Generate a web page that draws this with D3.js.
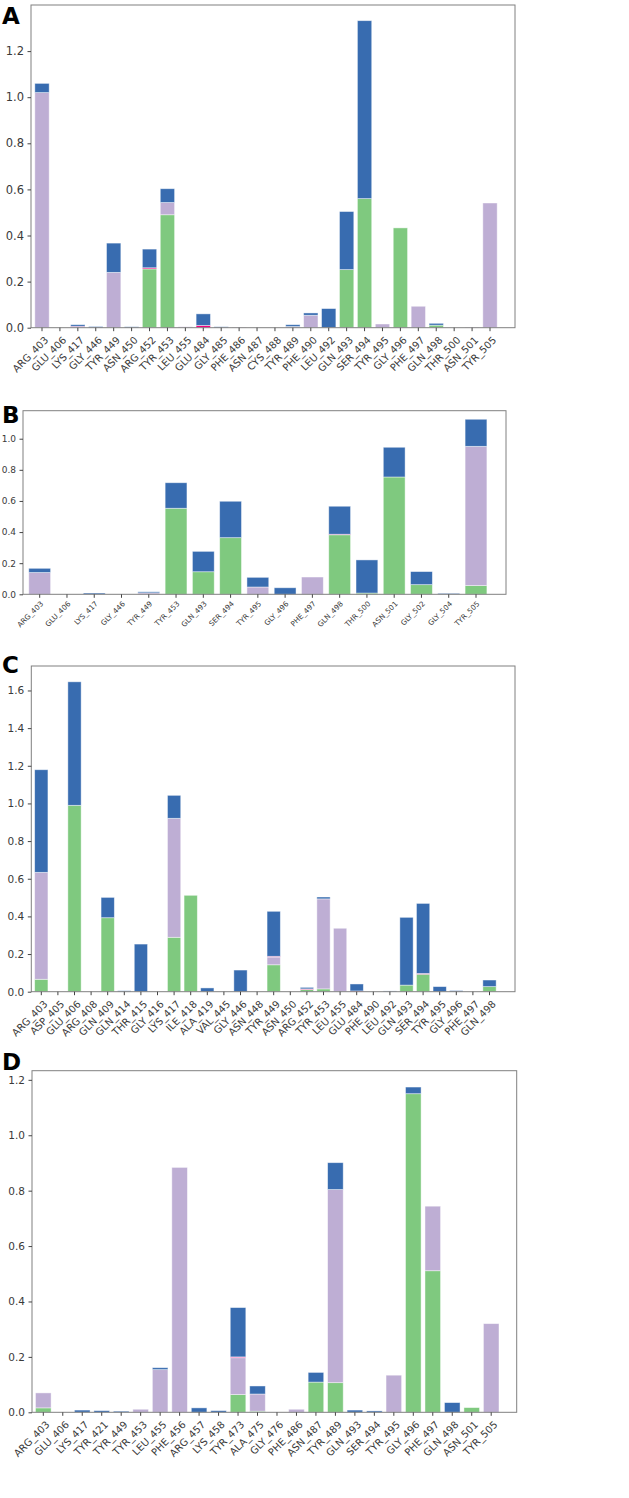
<!DOCTYPE html>
<html><head><meta charset="utf-8">
<script src="https://cdn.jsdelivr.net/npm/d3@7"></script>
<style>
html,body{margin:0;padding:0;background:#fff;}
svg{display:block;}
</style></head>
<body>
<svg id="chart" width="629" height="1498"></svg>
<script>
// ---------- Panel A data ----------
const catsA = ["ARG_403","GLU_406","LYS_417","GLY_446","TYR_449","ASN_450","ARG_452","TYR_453","LEU_455","GLU_484","GLY_485","PHE_486","ASN_487","CYS_488","TYR_489","PHE_490","LEU_492","GLN_493","SER_494","TYR_495","GLY_496","PHE_497","GLN_498","THR_500","ASN_501","TYR_505"];
const greenA  = [0,0,0,0,0,0,0.255,0.49,0,0,0,0,0,0,0,0,0,0.252,0.56,0,0.433,0,0.011,0,0,0];
const purpleA = [1.02,0,0.003,0,0.24,0,0,0.053,0.004,0,0,0.002,0,0,0.005,0.054,0,0,0,0.016,0,0.093,0,0,0.002,0.541];
const pinkA   = [0,0,0.003,0,0,0,0.005,0,0,0.01,0,0,0,0,0,0,0,0,0,0,0,0,0,0,0,0];
const blueA   = [0.04,0,0.007,0.005,0.127,0.004,0.081,0.06,0,0.05,0.004,0,0,0,0.008,0.01,0.083,0.252,0.772,0,0,0,0.008,0,0,0];
const ticksA  = [0,0.2,0.4,0.6,0.8,1.0,1.2];

// ---------- Panel B data ----------
const catsB = ["ARG_403","GLU_406","LYS_417","GLY_446","TYR_449","TYR_453","GLN_493","SER_494","TYR_495","GLY_496","PHE_497","GLN_498","THR_500","ASN_501","GLY_502","GLY_504","TYR_505"];
const greenB  = [0,0,0,0,0,0.553,0.145,0.364,0,0,0,0.383,0.008,0.754,0.062,0,0.056];
const purpleB = [0.14,0,0,0,0.009,0,0,0,0.047,0,0.111,0,0,0,0,0,0.895];
const pinkB   = [0,0,0,0,0,0,0,0,0,0,0,0.003,0,0,0,0,0];
const blueB   = [0.027,0,0.008,0,0.007,0.164,0.131,0.234,0.062,0.042,0,0.18,0.213,0.191,0.084,0.006,0.174];
const ticksB  = [0,0.2,0.4,0.6,0.8,1.0];

// ---------- Panel C data ----------
const catsC = ["ARG_403","ASP_405","GLU_406","ARG_408","GLN_409","GLN_414","THR_415","GLY_416","LYS_417","ILE_418","ALA_419","VAL_445","GLY_446","ASN_448","TYR_449","ASN_450","ARG_452","TYR_453","LEU_455","GLU_484","PHE_490","LEU_492","GLN_493","SER_494","TYR_495","GLY_496","PHE_497","GLN_498"];
const greenC  = [0.066,0,0.99,0,0.393,0,0,0,0.289,0.512,0,0,0,0,0.143,0,0.012,0.015,0,0,0,0,0.035,0.093,0,0,0,0.027];
const purpleC = [0.568,0,0,0,0,0,0,0,0.632,0,0,0,0,0,0.041,0,0,0.478,0.337,0,0,0,0,0,0,0,0,0];
const pinkC   = [0,0,0,0,0,0,0,0,0,0,0,0,0,0,0.004,0,0.003,0,0,0.004,0,0,0,0.004,0,0,0,0];
const blueC   = [0.545,0,0.656,0,0.108,0.005,0.253,0,0.122,0,0.02,0,0.115,0,0.239,0,0.008,0.01,0,0.037,0,0.004,0.36,0.372,0.027,0.006,0,0.035];
const ticksC  = [0,0.2,0.4,0.6,0.8,1.0,1.2,1.4,1.6];

// ---------- Panel D data ----------
const catsD = ["ARG_403","GLU_406","LYS_417","TYR_421","TYR_449","TYR_453","LEU_455","PHE_456","ARG_457","LYS_458","TYR_473","ALA_475","GLY_476","PHE_486","ASN_487","TYR_489","GLN_493","SER_494","TYR_495","GLY_496","PHE_497","GLN_498","ASN_501","TYR_505"];
const greenD  = [0.016,0,0,0,0,0,0,0,0,0,0.064,0.004,0,0,0.109,0.107,0,0,0,1.15,0.511,0,0.017,0];
const purpleD = [0.054,0,0,0,0,0.011,0.154,0.884,0,0,0.133,0.062,0,0.011,0,0.697,0,0,0.134,0,0.233,0,0,0.32];
const pinkD   = [0,0,0,0,0,0,0,0,0,0,0.003,0,0,0,0,0,0,0,0,0,0,0,0,0];
const blueD   = [0,0,0.008,0.006,0.004,0,0.007,0,0.016,0.006,0.178,0.029,0,0,0.035,0.097,0.008,0.005,0,0.024,0,0.035,0,0];
const ticksD  = [0,0.2,0.4,0.6,0.8,1.0,1.2];

const seriesKeys = ["green","purple","pink","blue"];
const colors = {green:"#7fc97f", purple:"#beaed4", pink:"#f0027f", blue:"#386cb0"};

// layout (pixel geometry only)
const panels = [
  {letter:"A", cats:catsA, s:{green:greenA,purple:purpleA,pink:pinkA,blue:blueA}, ticks:ticksA,
   left:31, right:515, top:5, bottom:327.7, c0:42, c1:490, yMax:1.4, letterY:24,
   yFont:11.5, xFont:10, lblDx:7, lblDy:13},
  {letter:"B", cats:catsB, s:{green:greenB,purple:purpleB,pink:pinkB,blue:blueB}, ticks:ticksB,
   left:23, right:506, top:410.7, bottom:594.3, c0:39.7, c1:476, yMax:1.18, letterY:423,
   yFont:9, xFont:7.3, lblDx:4, lblDy:10},
  {letter:"C", cats:catsC, s:{green:greenC,purple:purpleC,pink:pinkC,blue:blueC}, ticks:ticksC,
   left:31.3, right:515, top:666, bottom:991.7, c0:41.3, c1:489.5, yMax:1.73, letterY:673,
   yFont:10.5, xFont:10, lblDx:7, lblDy:13},
  {letter:"D", cats:catsD, s:{green:greenD,purple:purpleD,pink:pinkD,blue:blueD}, ticks:ticksD,
   left:32, right:516.7, top:1070.7, bottom:1412.3, c0:43.3, c1:491.2, yMax:1.233, letterY:1070,
   yFont:10.5, xFont:10, lblDx:7, lblDy:13}
];

const svg = d3.select("#chart");
const font = "DejaVu Sans, sans-serif";

panels.forEach(p => {
  const n = p.cats.length;
  const step = (p.c1 - p.c0) / (n - 1);
  const x = d3.scaleBand().domain(p.cats)
    .range([p.c0 - step/2, p.c1 + step/2]).paddingInner(0.2).paddingOuter(0.1);
  const y = d3.scaleLinear().domain([0, p.yMax]).range([p.bottom, p.top]);

  const g = svg.append("g");

  const rows = p.cats.map((c,i) => {
    const r = {cat:c};
    seriesKeys.forEach(k => r[k] = p.s[k][i]);
    return r;
  });
  const stacked = d3.stack().keys(seriesKeys)(rows);

  g.selectAll("g.layer").data(stacked).join("g")
    .attr("fill", d => colors[d.key])
    .selectAll("rect").data(d => d.filter(e => e[1] - e[0] > 0)).join("rect")
    .attr("x", d => x(d.data.cat))
    .attr("width", x.bandwidth())
    .attr("y", d => y(d[1]))
    .attr("height", d => Math.max(0.6, y(d[0]) - y(d[1])))
    .attr("stroke", "rgba(255,255,255,0.55)")
    .attr("stroke-width", 0.8);

  g.append("rect")
    .attr("x", p.left).attr("y", p.top)
    .attr("width", p.right - p.left).attr("height", p.bottom - p.top)
    .attr("fill", "none").attr("stroke", "#808080").attr("stroke-width", 1);

  const yAxis = d3.axisLeft(y).tickValues(p.ticks).tickFormat(d3.format(".1f"))
    .tickSize(3.5).tickPadding(3.5);
  const ya = g.append("g").attr("transform", `translate(${p.left},0)`).call(yAxis);
  ya.select(".domain").remove();
  ya.selectAll("line").attr("stroke", "#444");
  ya.selectAll("text").attr("font-family", font).attr("font-size", p.yFont).attr("fill", "#3a3a3a");

  const xAxis = d3.axisBottom(x).tickSize(3.5).tickFormat("");
  const xa = g.append("g").attr("transform", `translate(0,${p.bottom})`).call(xAxis);
  xa.select(".domain").remove();
  xa.selectAll("line").attr("stroke", "#444");

  g.append("g").selectAll("text").data(p.cats).join("text")
    .attr("transform", d => `translate(${x(d) + x.bandwidth()/2 + p.lblDx},${p.bottom + p.lblDy}) rotate(-45)`)
    .attr("text-anchor", "end")
    .attr("font-family", font).attr("font-size", p.xFont).attr("fill", "#3a3a3a")
    .text(d => d);

  svg.append("text").attr("x", 2).attr("y", p.letterY)
    .attr("font-family", "DejaVu Sans, sans-serif").attr("font-weight", "bold")
    .attr("font-size", 23).attr("fill", "#000").text(p.letter);
});
</script>
</body></html>
